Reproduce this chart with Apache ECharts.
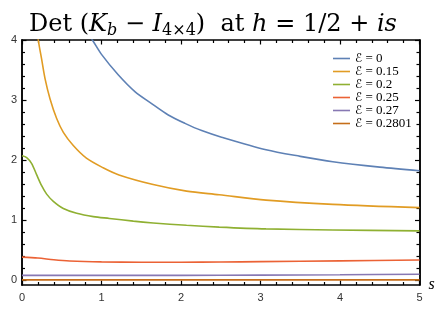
<!DOCTYPE html>
<html>
<head>
<meta charset="utf-8">
<script src="https://cdn.jsdelivr.net/npm/echarts@6/dist/echarts.min.js"></script>
<style>html,body{margin:0;padding:0;background:#fff}#c{width:445px;height:313px}</style>
</head>
<body>
<div id="c"></div>
<script>
// Legend labels (ℰ values)
var legendValues = ['0', '0.15', '0.2', '0.25', '0.27', '0.2801'];
var legendNames = legendValues.map(function (v) { return 'ℰ = ' + v; });
// Tick values
var xTicks = [0, 1, 2, 3, 4, 5];
var yTicks = [0, 1, 2, 3, 4];
var yMinorTicks = [0.2,0.4,0.6,0.8,1.2,1.4,1.6,1.8,2.2,2.4,2.6,2.8,3.2,3.4,3.6,3.8];
// Series data: [s, value]
var dataE0 = [[0.78,4.2],[0.885,4.0],[1.0,3.76],[1.21,3.42],[1.42,3.14],[1.63,2.94],[1.84,2.75],[2.05,2.61],[2.26,2.49],[2.51,2.38],[3.07,2.17],[3.5,2.06],[3.91,1.97],[4.5,1.88],[5,1.82]];
var dataE015 = [[0.18,4.35],[0.205,4.0],[0.247,3.68],[0.289,3.36],[0.352,3.02],[0.436,2.69],[0.52,2.46],[0.645,2.24],[0.81,2.03],[1.02,1.87],[1.22,1.75],[1.65,1.59],[2.07,1.48],[2.48,1.42],[3.07,1.33],[3.91,1.26],[5,1.205]];
var dataE02 = [[0,2.07],[0.059,2.04],[0.122,1.94],[0.185,1.75],[0.247,1.57],[0.31,1.43],[0.394,1.31],[0.52,1.19],[0.688,1.11],[0.897,1.055],[1.1,1.025],[1.4,0.98],[1.65,0.95],[2.07,0.91],[2.48,0.88],[3.07,0.85],[3.91,0.833],[5,0.817]];
var dataE025 = [[0,0.38],[0.2,0.365],[0.4,0.335],[0.6,0.315],[1,0.30],[1.5,0.295],[2,0.295],[2.5,0.298],[3,0.305],[4,0.318],[5,0.333]];
var dataE027 = [[0,0.075],[1,0.075],[2,0.076],[3,0.08],[4,0.086],[5,0.093]];
var dataE02801 = [[0,0.001],[1,0.001],[2,0.001],[3,0.001],[4,0.001],[5,0.001]];

var colors = ['#5E81B5', '#E19C24', '#8FB032', '#EB6235', '#8778B3', '#C56E1A'];
var allData = [dataE0, dataE015, dataE02, dataE025, dataE027, dataE02801];

var chart = echarts.init(document.getElementById('c'), null, {renderer: 'canvas'});
var serif = '"Liberation Serif", "DejaVu Serif", serif';
var dserif = '"DejaVu Serif", serif';
var sans = '"Liberation Sans", Arial, sans-serif';
var axisLine = {show: true, onZero: false, lineStyle: {color: '#000', width: 1.5}};
var tickStyle = {color: '#000', width: 1.2};
var X_MIN = 0, X_MAX = 5, Y_MIN = -0.085, Y_MAX = 4;

function xAx(pos, labels) {
  return {type: 'value', position: pos, min: X_MIN, max: X_MAX, interval: 1,
    axisLine: axisLine, splitLine: {show: false}, minorSplitLine: {show: false},
    axisTick: {show: true, inside: true, length: 4.5, lineStyle: tickStyle},
    minorTick: {show: true, splitNumber: 5, length: 3, lineStyle: tickStyle},
    axisLabel: labels ? {show: true, color: '#333', fontFamily: sans, fontSize: 11, margin: 7} : {show: false},
    name: labels ? 's' : '', nameLocation: 'end', nameGap: 1,
    nameTextStyle: {fontFamily: serif, fontStyle: 'italic', fontSize: 16, color: '#000', verticalAlign: 'middle'}
  };
}
function yAx(pos, labels, minor) {
  return {type: 'value', position: pos, min: Y_MIN, max: Y_MAX,
    axisLine: axisLine, splitLine: {show: false},
    axisTick: {show: true, inside: true, length: minor ? 3 : 4.5, lineStyle: tickStyle,
      customValues: minor ? yMinorTicks : yTicks},
    axisLabel: labels ? {show: true, color: '#333', fontFamily: sans, fontSize: 11, margin: 5,
      customValues: yTicks} : {show: false}
  };
}

var series = allData.map(function (d, i) {
  return {name: legendNames[i], type: 'line', data: d, smooth: 0.3, symbol: 'none',
    xAxisIndex: 0, yAxisIndex: 0, clip: true,
    lineStyle: {color: colors[i], width: 1.6}, itemStyle: {color: colors[i]}, z: 3};
});

var tw = {fontWeight: 'normal', color: '#000'};
chart.setOption({
  animation: false,
  backgroundColor: '#fff',
  title: {
    left: 24, top: 5,
    text: '{n|Det (}{i|K}{si|b}{n| \u2212 }{i|I}{s|4×4}{n|)  at }{i|h}{n| = 1/2 + }{i|is}',
    textStyle: {
      fontWeight: 'normal',
      rich: {
        n: Object.assign({fontFamily: dserif, fontSize: 24, lineHeight: 30}, tw),
        i: Object.assign({fontFamily: dserif, fontSize: 24, fontStyle: 'italic', lineHeight: 30}, tw),
        si: Object.assign({fontFamily: dserif, fontSize: 16, fontStyle: 'italic', lineHeight: 16, padding: [12, 0, 0, 0]}, tw),
        s: Object.assign({fontFamily: dserif, fontSize: 16, lineHeight: 16, padding: [12, 0, 0, 0]}, tw)
      }
    }
  },
  legend: {
    orient: 'vertical', left: 328, top: 47, itemWidth: 17, itemHeight: 1.6, itemGap: 0,
    icon: 'rect',
    data: legendNames,
    formatter: function (name) { return '{e|ℰ}{t|' + name.slice(1) + '}'; },
    textStyle: {fontFamily: serif, fontSize: 13, color: '#000', lineHeight: 12.8,
      rich: {
        e: {fontFamily: '"DejaVu Serif", "DejaVu Sans", serif', fontStyle: 'italic', fontSize: 12, color: '#000', lineHeight: 12.8},
        t: {fontFamily: serif, fontSize: 13, color: '#000', lineHeight: 12.8}
      }
    }
  },
  grid: {left: 22, right: 25.5, top: 40, bottom: 28, containLabel: false},
  xAxis: [xAx('bottom', true), xAx('top', false)],
  yAxis: [yAx('left', true, false), yAx('left', false, true), yAx('right', false, false), yAx('right', false, true)],
  series: series
});
</script>
</body>
</html>
